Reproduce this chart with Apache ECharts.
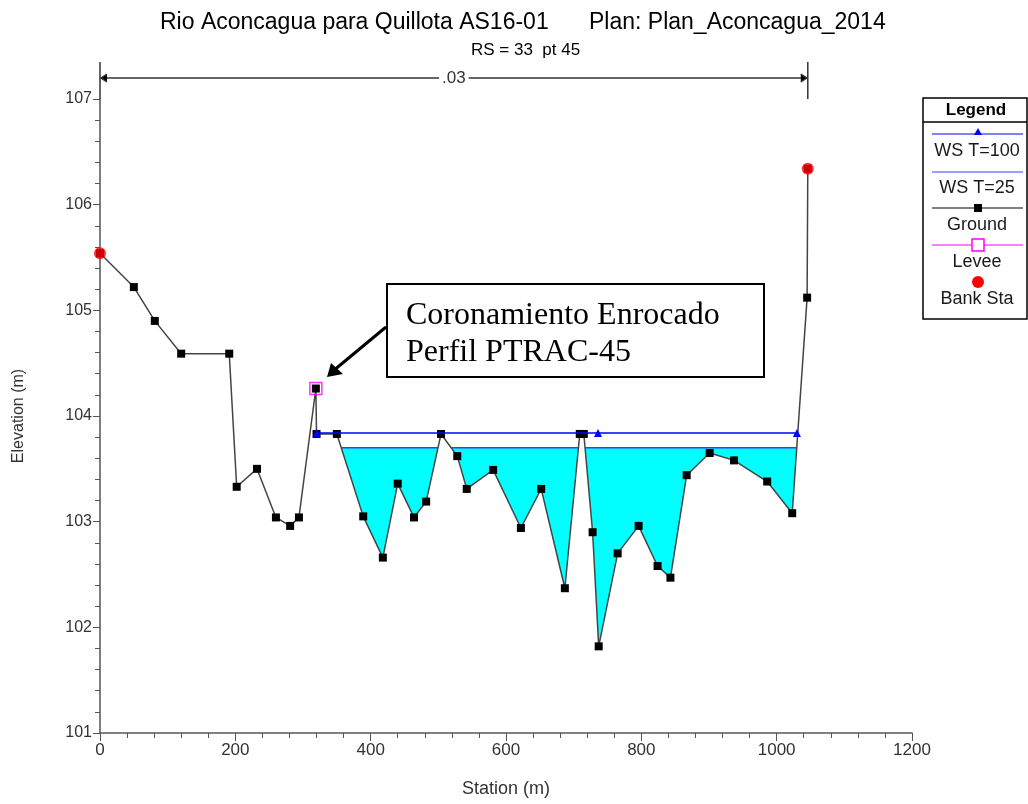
<!DOCTYPE html>
<html>
<head>
<meta charset="utf-8">
<script src="https://cdn.jsdelivr.net/npm/echarts@6/dist/echarts.min.js"></script>
<style>
  html, body { margin: 0; padding: 0; background: #fff; }
  #myChart { width: 1028px; height: 804px; }
</style>
</head>
<body>
<div id="myChart"></div>
<script>
// ground profile (station m, elevation m)
var groundSta = [0, 50, 81, 120, 191, 202, 232, 260, 281, 294, 319, 320, 350, 389, 418, 440, 464, 482, 504, 528, 542, 581, 622, 652, 687, 709, 715, 728, 737, 765, 796, 824, 843, 867, 901, 937, 986, 1023, 1045, 1046];
var groundElev = [105.54, 105.22, 104.90, 104.59, 104.59, 103.33, 103.50, 103.04, 102.96, 103.04, 104.26, 103.83, 103.83, 103.05, 102.66, 103.36, 103.04, 103.19, 103.83, 103.62, 103.31, 103.49, 102.94, 103.31, 102.37, 103.83, 103.83, 102.90, 101.82, 102.70, 102.96, 102.58, 102.47, 103.44, 103.65, 103.58, 103.38, 103.08, 105.12, 106.34];
var bankSta = [0, 1046];
var bankElev = [105.54, 106.34];
var leveeSta = [319];
var leveeElev = [104.26];
var ws100Sta = [320, 736, 1030];
var ws100Elev = 103.84;
var ws25Elev = 103.70;
var nValue = ".03";
var xTicks = [0, 200, 400, 600, 800, 1000, 1200];
var yTicks = [101, 102, 103, 104, 105, 106, 107];

function zip(xs, ys) {
  return xs.map(function (x, i) { return [x, Array.isArray(ys) ? ys[i] : ys]; });
}

// wet areas under a water surface, right of the levee
function wetPolygons(ws, fromSta) {
  var polys = [], cur = null;
  for (var i = 0; i < groundSta.length - 1; i++) {
    var x1 = groundSta[i], y1 = groundElev[i], x2 = groundSta[i + 1], y2 = groundElev[i + 1];
    if (x1 < fromSta) continue;
    var w1 = y1 < ws, w2 = y2 < ws;
    if (!w1 && w2) {
      var t = (ws - y1) / (y2 - y1);
      cur = [[x1 + t * (x2 - x1), ws]];
    }
    if (w2) cur.push([x2, y2]);
    if (w1 && !w2) {
      var t2 = (ws - y1) / (y2 - y1);
      cur.push([x1 + t2 * (x2 - x1), ws]);
      polys.push(cur);
      cur = null;
    }
  }
  return polys;
}
var waterPolys = wetPolygons(ws25Elev, 320);

var sans = "'Liberation Sans', Arial, sans-serif";

var myChart = echarts.init(document.getElementById("myChart"));
var option = {
  backgroundColor: "#fff",
  animation: false,
  title: [
    { text: "Rio Aconcagua para Quillota AS16-01", left: 155, top: 6,
      textStyle: { fontFamily: sans, fontSize: 23, fontWeight: "normal", color: "#000" } },
    { text: "Plan: Plan_Aconcagua_2014", left: 584, top: 6,
      textStyle: { fontFamily: sans, fontSize: 23, fontWeight: "normal", color: "#000" } },
    { text: "RS = 33  pt 45", left: 466, top: 37,
      textStyle: { fontFamily: sans, fontSize: 17, fontWeight: "normal", color: "#000" } }
  ],
  grid: { left: 100, right: 116, top: 99, bottom: 71 },
  xAxis: {
    type: "value", min: xTicks[0], max: xTicks[xTicks.length - 1], interval: 200,
    name: "Station (m)", nameLocation: "middle", nameGap: 47,
    nameTextStyle: { fontFamily: sans, fontSize: 18, color: "#333" },
    axisLine: { lineStyle: { color: "#555", width: 1.5 } },
    axisTick: { length: 8, lineStyle: { color: "#555" } },
    minorTick: { show: true, splitNumber: 5, length: 5, lineStyle: { color: "#555" } },
    axisLabel: { fontFamily: sans, fontSize: 17, color: "#333", margin: 9,
                 formatter: function (v) { return String(v); } },
    splitLine: { show: false }
  },
  yAxis: {
    type: "value", min: yTicks[0], max: yTicks[yTicks.length - 1], interval: 1,
    name: "Elevation (m)", nameLocation: "middle", nameGap: 73,
    nameTextStyle: { fontFamily: sans, fontSize: 16, color: "#333" },
    axisLine: { show: true, lineStyle: { color: "#555", width: 1.5 } },
    axisTick: { show: true, length: 7, lineStyle: { color: "#555" } },
    minorTick: { show: true, splitNumber: 5, length: 5, lineStyle: { color: "#555" } },
    axisLabel: { fontFamily: sans, fontSize: 16, color: "#333", margin: 8 },
    splitLine: { show: false }
  },
  series: [
    {
      name: "WS T=25",
      type: "custom",
      z: 1,
      data: waterPolys.map(function (p) { return [p[0][0], ws25Elev]; }),
      encode: { x: 0, y: 1 },
      renderItem: function (params, api) {
        var poly = waterPolys[params.dataIndex];
        var pts = poly.map(function (p) { return api.coord(p); });
        var a = pts[0], b = pts[pts.length - 1];
        return {
          type: "group",
          children: [
            { type: "polygon", shape: { points: pts }, style: { fill: "#00ffff", stroke: null } },
            { type: "line", shape: { x1: a[0], y1: a[1], x2: b[0], y2: b[1] },
              style: { stroke: "#3b3bff", lineWidth: 1.5 } }
          ]
        };
      }
    },
    {
      name: "n value",
      type: "custom",
      z: 1,
      data: [[bankSta[0], yTicks[yTicks.length - 1], bankSta[1]]],
      encode: { x: 0, y: 1 },
      renderItem: function (params, api) {
        var top = params.coordSys.y;
        var x0 = api.coord([api.value(0), api.value(1)])[0];
        var x1 = api.coord([api.value(2), api.value(1)])[0];
        var yh = top - 21;
        var st = { stroke: "#333", lineWidth: 1.5 };
        return {
          type: "group",
          children: [
            { type: "line", shape: { x1: x0, y1: top - 37, x2: x0, y2: top }, style: st },
            { type: "line", shape: { x1: x1, y1: top - 37, x2: x1, y2: top }, style: st },
            { type: "line", shape: { x1: x0, y1: yh, x2: x1, y2: yh }, style: st },
            { type: "polyline", shape: { points: [[x0 + 7, yh - 4], [x0 + 1, yh], [x0 + 7, yh + 4]] }, style: st },
            { type: "polyline", shape: { points: [[x1 - 7, yh - 4], [x1 - 1, yh], [x1 - 7, yh + 4]] }, style: st },
            { type: "text", x: (x0 + x1) / 2, y: yh,
              style: { text: nValue, fill: "#333", font: "17px " + sans, align: "center",
                       verticalAlign: "middle", backgroundColor: "#fff", padding: [0, 3] } }
          ]
        };
      }
    },
    {
      name: "Ground",
      type: "line",
      z: 3,
      data: zip(groundSta, groundElev),
      symbol: "rect",
      symbolSize: 8,
      showAllSymbol: true,
      itemStyle: { color: "#000" },
      lineStyle: { color: "#444", width: 1.5 }
    },
    {
      name: "Levee",
      type: "scatter",
      z: 4,
      data: zip(leveeSta, leveeElev),
      symbol: "rect",
      symbolSize: 12,
      itemStyle: { color: "rgba(0,0,0,0)", borderColor: "#ff00ff", borderWidth: 1.5 }
    },
    {
      name: "WS T=100",
      type: "line",
      z: 4,
      data: zip(ws100Sta, ws100Elev),
      symbol: "triangle",
      symbolSize: 8,
      itemStyle: { color: "#0000ff" },
      lineStyle: { color: "#0000ff", width: 1.5 }
    },
    {
      name: "Bank Sta",
      type: "scatter",
      z: 5,
      data: zip(bankSta, bankElev),
      symbol: "circle",
      symbolSize: 12,
      itemStyle: { color: "#ff0000" }
    }
  ],
  graphic: [
    // annotation
    { type: "rect", shape: { x: 387, y: 284, width: 377, height: 93 },
      style: { fill: "#fff", stroke: "#000", lineWidth: 2 }, z: 10 },
    { type: "text", x: 406, y: 297, z: 11,
      style: { text: "Coronamiento Enrocado\nPerfil PTRAC-45", font: "32px 'Liberation Serif', 'Times New Roman', serif",
               fill: "#000", lineHeight: 37 } },
    { type: "line", shape: { x1: 386, y1: 327, x2: 333, y2: 371 },
      style: { stroke: "#000", lineWidth: 3 }, z: 10 },
    { type: "polygon", shape: { points: [[327, 377], [331, 363], [343, 374]] },
      style: { fill: "#000" }, z: 10 },
    // legend
    { type: "rect", shape: { x: 923, y: 98, width: 104, height: 221 },
      style: { fill: "#fff", stroke: "#000", lineWidth: 1.5 }, z: 10 },
    { type: "line", shape: { x1: 923, y1: 122, x2: 1027, y2: 122 }, style: { stroke: "#000", lineWidth: 1.5 }, z: 10 },
    { type: "text", x: 976, y: 110, z: 11,
      style: { text: "Legend", font: "bold 17px " + sans, fill: "#000", align: "center", verticalAlign: "middle" } },
    { type: "line", shape: { x1: 932, y1: 134, x2: 1023, y2: 134 }, style: { stroke: "#0000ff", lineWidth: 1.2 }, z: 11 },
    { type: "polygon", shape: { points: [[978, 128], [974, 135], [982, 135]] }, style: { fill: "#0000ff" }, z: 11 },
    { type: "text", x: 977, y: 151, z: 11,
      style: { text: "WS T=100", font: "18px " + sans, fill: "#1a1a1a", align: "center", verticalAlign: "middle" } },
    { type: "line", shape: { x1: 932, y1: 172, x2: 1023, y2: 172 }, style: { stroke: "#3b3bff", lineWidth: 1.2 }, z: 11 },
    { type: "text", x: 977, y: 188, z: 11,
      style: { text: "WS T=25", font: "18px " + sans, fill: "#1a1a1a", align: "center", verticalAlign: "middle" } },
    { type: "line", shape: { x1: 932, y1: 208, x2: 1023, y2: 208 }, style: { stroke: "#000", lineWidth: 1.2 }, z: 11 },
    { type: "rect", shape: { x: 974, y: 204, width: 8, height: 8 }, style: { fill: "#000" }, z: 11 },
    { type: "text", x: 977, y: 225, z: 11,
      style: { text: "Ground", font: "18px " + sans, fill: "#1a1a1a", align: "center", verticalAlign: "middle" } },
    { type: "line", shape: { x1: 932, y1: 245, x2: 1023, y2: 245 }, style: { stroke: "#ff00ff", lineWidth: 1.2 }, z: 11 },
    { type: "rect", shape: { x: 972, y: 239, width: 12, height: 12 }, style: { fill: "#fff", stroke: "#ff00ff", lineWidth: 1.5 }, z: 11 },
    { type: "text", x: 977, y: 262, z: 11,
      style: { text: "Levee", font: "18px " + sans, fill: "#1a1a1a", align: "center", verticalAlign: "middle" } },
    { type: "circle", shape: { cx: 978, cy: 282, r: 6 }, style: { fill: "#ff0000" }, z: 11 },
    { type: "text", x: 977, y: 299, z: 11,
      style: { text: "Bank Sta", font: "18px " + sans, fill: "#1a1a1a", align: "center", verticalAlign: "middle" } }
  ]
};
myChart.setOption(option);
</script>
</body>
</html>
